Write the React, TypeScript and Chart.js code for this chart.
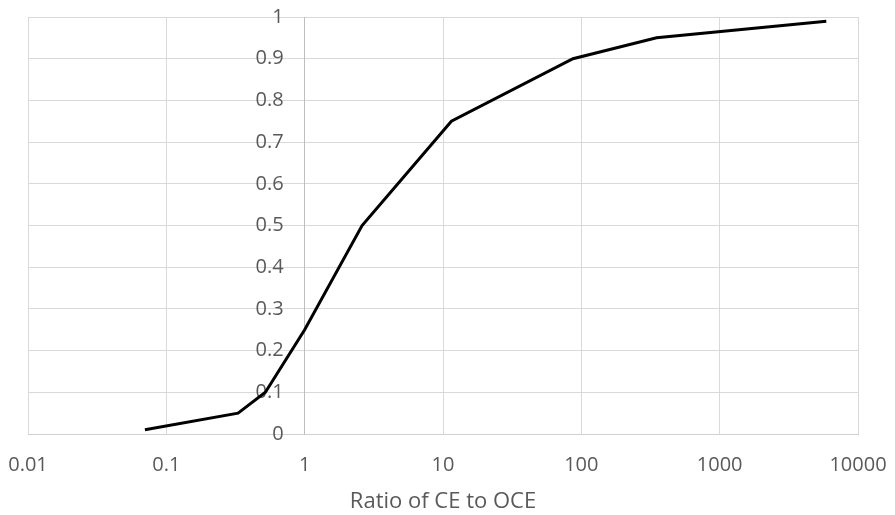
import React, { useEffect, useRef } from "react";
import { Chart, registerables } from "chart.js";

Chart.register(...registerables);

const ratio = [0.07, 0.33, 0.52, 1, 2.6, 11.5, 87, 350, 5900];
const fraction = [0.01, 0.05, 0.1, 0.25, 0.5, 0.75, 0.9, 0.95, 0.99];
const xTickValues = [0.01, 0.1, 1, 10, 100, 1000, 10000];
const xTickLabels = ["0.01", "0.1", "1", "10", "100", "1000", "10000"];
const yTickLabels = ["0", "0.1", "0.2", "0.3", "0.4", "0.5", "0.6", "0.7", "0.8", "0.9", "1"];
const xTitle = "Ratio of CE to OCE";

// Shift the y-axis tick labels (axis crosses at x = 1) to the left of the axis line.
const yLabelGap = 21;
const shiftYLabels = {
  id: "shiftYLabels",
  afterLayout(chart: any) {
    const s = chart.scales.y;
    if (!s || s.__shifted) return;
    const orig = s._computeLabelItems.bind(s);
    s._computeLabelItems = (ca: any) => {
      const items = orig(ca);
      items.forEach((it: any) => {
        it.options.translation = [it.options.translation[0] - yLabelGap, it.options.translation[1]];
      });
      return items;
    };
    s._labelItems = null;
    s.__shifted = true;
  },
};

export default function App() {
  const ref = useRef<HTMLCanvasElement | null>(null);
  useEffect(() => {
    document.body.style.margin = "0";
    const ctx = ref.current!;
    const font = "'Open Sans', sans-serif";
    const chart = new Chart(ctx, {
      type: "line",
      data: {
        datasets: [
          {
            data: ratio.map((r, i) => ({ x: r, y: fraction[i] })),
            borderColor: "#000000",
            borderWidth: 3,
            pointRadius: 0,
            tension: 0,
            fill: false,
          },
        ],
      },
      plugins: [shiftYLabels],
      options: {
        animation: false,
        responsive: false,
        maintainAspectRatio: false,
        layout: { padding: { left: 28, right: 37, top: 17, bottom: 0 } },
        plugins: { legend: { display: false }, tooltip: { enabled: false } },
        scales: {
          x: {
            type: "logarithmic",
            min: 0.01,
            max: 10000,
            afterBuildTicks: (scale: any) => {
              scale.ticks = xTickValues.map((v) => ({ value: v }));
            },
            ticks: {
              autoSkip: false,
              maxRotation: 0,
              padding: 0,
              color: "#595959",
              font: { family: font, size: 20 },
              callback: (v: any) => {
                const i = xTickValues.indexOf(Number(v));
                return i >= 0 ? xTickLabels[i] : "";
              },
            },
            grid: {
              color: "#d9d9d9",
              lineWidth: 1,
              drawTicks: true,
              tickLength: 19,
              tickColor: "rgba(0,0,0,0)",
            },
            border: { color: "#d0d0d0", width: 1 },
            title: {
              display: true,
              text: xTitle,
              color: "#595959",
              font: { family: font, size: 22 },
              padding: { top: 11.6, bottom: 0 },
            },
          },
          y: {
            type: "linear",
            position: { x: 1 } as any,
            min: 0,
            max: 1,
            ticks: {
              stepSize: 0.1,
              padding: 0,
              color: "#595959",
              font: { family: font, size: 20 },
              callback: (v: any) => {
                const i = Math.round(Number(v) * 10);
                return yTickLabels[i] ?? "";
              },
            },
            grid: { color: "#d9d9d9", lineWidth: 1, drawTicks: false },
            border: { color: "#bfbfbf", width: 1 },
          },
        },
      },
    });
    return () => chart.destroy();
  }, []);
  return (
    <div style={{ width: 895, height: 515, background: "#fff" }}>
      <canvas ref={ref} width={895} height={515} style={{ display: "block" }} />
    </div>
  );
}
